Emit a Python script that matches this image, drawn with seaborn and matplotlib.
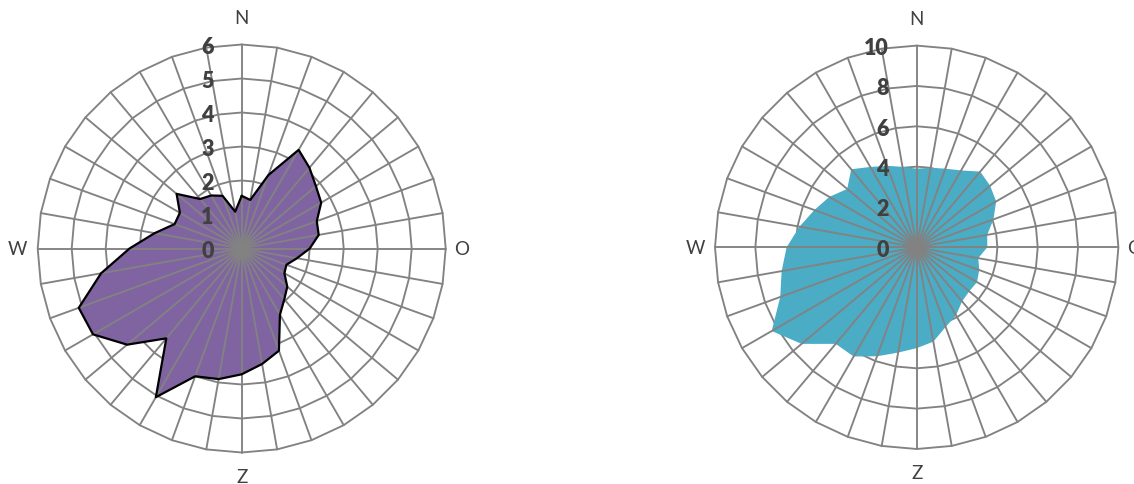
import numpy as np
import pandas as pd
import matplotlib
matplotlib.use("Agg")
import matplotlib.pyplot as plt
from matplotlib.transforms import offset_copy
import seaborn as sns

# ---- data -------------------------------------------------------------
angles_deg = [0, 10, 20, 30, 40, 50, 60, 70, 80, 90, 100, 110,
              120, 130, 140, 150, 160, 170, 180, 190, 200, 210, 220, 230,
              240, 250, 260, 270, 280, 290, 300, 310, 320, 330, 340, 350]
compass_angles = [0, 90, 180, 270]
compass_labels = ["N", "O", "Z", "W"]

left_values = [1.55, 1.45, 2.3, 3.35, 3.1, 2.85, 2.7, 2.35, 2.3, 2.0, 1.65, 1.4,
               1.45, 1.75, 1.95, 2.25, 3.2, 3.45, 3.7, 3.9, 4.0, 5.05, 3.45, 4.4,
               5.05, 5.1, 4.2, 3.3, 2.6, 2.1, 2.1, 2.5, 1.9, 1.8, 1.65, 1.1]
right_values = [3.9, 4.0, 4.15, 4.4, 4.9, 4.75, 4.55, 4.05, 3.55, 3.5, 3.1, 3.3,
                3.45, 3.4, 3.5, 3.9, 4.2, 4.75, 5.0, 5.3, 5.75, 6.25, 6.25, 7.45,
                8.3, 7.2, 6.8, 6.45, 5.9, 5.4, 5.0, 4.5, 5.05, 4.6, 4.3, 4.05]
left_ticks = [0, 1, 2, 3, 4, 5, 6]
right_ticks = [0, 2, 4, 6, 8, 10]

# ---- style ------------------------------------------------------------
left_fill = "#8064A2"
right_fill = "#4BACC6"
grid_color = "#828282"
text_color = "#404040"

sns.set_theme(style="white")
plt.rcParams["font.family"] = ["Lato", "DejaVu Sans"]

W, H = 1134, 485
fig = plt.figure(figsize=(W / 100, H / 100), dpi=100)


def radar(center, radius, values, ticks, fill, edge):
    cx, cy = center
    ax = fig.add_axes([(cx - radius) / W, (H - cy - radius) / H,
                       2 * radius / W, 2 * radius / H], projection="polar")
    ax.set_theta_zero_location("N")
    ax.set_theta_direction(-1)
    ax.set_axis_off()
    rmax = ticks[-1]
    theta = np.deg2rad(angles_deg)
    theta_c = np.append(theta, 2 * np.pi)
    vals_c = np.append(values, values[0])
    # polygon rings
    for t in ticks[1:]:
        ax.plot(theta_c, [t] * len(theta_c), color=grid_color, lw=1.35,
                zorder=1, clip_on=False)
    # filled series
    ax.fill(theta_c, vals_c, color=fill, lw=0, zorder=2)
    # spokes
    for th in theta:
        ax.plot([th, th], [0, rmax], color=grid_color, lw=1.35, zorder=3,
                clip_on=False)
    if edge:
        df = pd.DataFrame({"theta": theta_c, "r": vals_c})
        sns.lineplot(data=df, x="theta", y="r", sort=False, estimator=None,
                     color=edge, lw=1.6, ax=ax, zorder=4)
    ax.set_ylim(0, rmax)
    ax.set_axis_off()
    # value labels
    tr = offset_copy(ax.transData, fig=fig, x=-28, y=-2, units="dots")
    for t in ticks:
        ax.text(0, t, str(t), transform=tr, ha="right", va="center",
                fontsize=15.5, fontweight="heavy", color=text_color,
                zorder=10, clip_on=False)
    # compass labels
    offs = {"N": (0, 27), "O": (16, 0), "Z": (0, -24), "W": (-20, 0)}
    for ang, lab in zip(compass_angles, compass_labels):
        dx, dy = offs[lab]
        trl = offset_copy(ax.transData, fig=fig, x=dx, y=dy, units="dots")
        ax.text(np.deg2rad(ang), rmax, lab, transform=trl, ha="center",
                va="center", fontsize=13.5, color=text_color, clip_on=False)
    return ax


radar((241.7, 249.5), 204, left_values, left_ticks, left_fill, "black")
radar((916.7, 248.3), 201.7, right_values, right_ticks, right_fill, None)

fig.savefig("out.png", dpi=100)
